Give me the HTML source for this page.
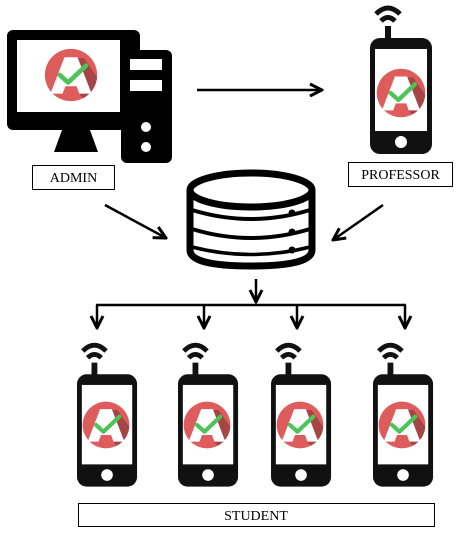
<!DOCTYPE html>
<html><head><style>
html,body{margin:0;padding:0;background:#fff;width:464px;height:540px;overflow:hidden}
svg{display:block}
text{font-family:"Liberation Serif",serif;font-size:14px}
</style></head><body>
<svg width="464" height="540" viewBox="0 0 464 540" xmlns="http://www.w3.org/2000/svg">
<defs>
<symbol id="logo" viewBox="-30 -30 60 60">
 <clipPath id="cc"><circle r="28"/></clipPath>
 <circle r="28" fill="#de5c5c"/>
 <polygon clip-path="url(#cc)" points="-2,-18 14,-18 40,20 30,40 10,22" fill="#a64545"/>
 <polygon points="-7,-19 7,-19 22,20 9,20 6,12 -6,12 -9,20 -22,20" fill="#fff"/>
 <polyline points="-12,0 -3,8 16,-10" fill="none" stroke="#4cc45a" stroke-width="5" stroke-linecap="round" stroke-linejoin="round"/>
</symbol>
<symbol id="phone" viewBox="0 0 64 150">
 <path d="M6 10 Q 18 -2 30 10" fill="none" stroke="#111" stroke-width="5"/>
 <path d="M11 17 Q 18 10 25 17" fill="none" stroke="#111" stroke-width="5"/>
 <rect x="15" y="22" width="6" height="14" fill="#111"/>
 <rect x="0" y="34" width="62" height="116" rx="10" fill="#111"/>
 <rect x="5" y="45" width="52" height="82" fill="#fff"/>
 <circle cx="31" cy="138" r="6" fill="#fff"/>
</symbol>
<marker id="ah" viewBox="0 0 10 10" refX="9" refY="5" markerWidth="6" markerHeight="6" orient="auto">
 <path d="M1 1 L9 5 L1 9" fill="none" stroke="#000" stroke-width="2"/>
</marker>
</defs>

<rect x="7" y="30" width="133" height="100" rx="6" fill="#000"/>
<rect x="17" y="40" width="103" height="72" fill="#fff"/>
<polygon points="62,130 90,130 98,152 54,152" fill="#000"/>
<rect x="121" y="50" width="51" height="113" rx="6" fill="#000"/>
<rect x="130" y="59" width="32" height="11" fill="#fff"/>
<rect x="130" y="80" width="32" height="11" fill="#fff"/>
<circle cx="146" cy="127" r="5" fill="#fff"/>
<circle cx="146" cy="147" r="5" fill="#fff"/>
<use href="#logo" x="43" y="47" width="56" height="56"/>
<rect x="32.5" y="165.5" width="82" height="24" fill="#fff" stroke="#000"/>
<text x="73.5" y="182" text-anchor="middle">ADMIN</text>

<use href="#phone" x="370" y="4" width="64" height="150"/>
<use href="#logo" x="375" y="67" width="52" height="52"/>
<rect x="348.5" y="162.5" width="104" height="24" fill="#fff" stroke="#000"/>
<text x="400.5" y="179" text-anchor="middle">PROFESSOR</text>

<line x1="197" y1="90" x2="322" y2="90" stroke="#000" stroke-width="2.5" marker-end="url(#ah)"/>
<line x1="105" y1="205" x2="166" y2="238" stroke="#000" stroke-width="2.5" marker-end="url(#ah)"/>
<line x1="383" y1="205" x2="333" y2="240" stroke="#000" stroke-width="2.5" marker-end="url(#ah)"/>

<g fill="#fff" stroke="#000">
 <path d="M190 190 L190 250 Q190 266 251 266 Q312 266 312 250 L312 190" stroke-width="7"/>
 <path d="M192 210 Q251 228 310 210" fill="none" stroke-width="4"/>
 <path d="M192 229 Q251 247 310 229" fill="none" stroke-width="4"/>
 <path d="M192 247 Q251 262 310 247" fill="none" stroke-width="3.5"/>
 <ellipse cx="251" cy="190" rx="61" ry="17" stroke-width="7"/>
</g>
<circle cx="292" cy="213" r="3.5"/>
<circle cx="292" cy="232" r="3.5"/>
<circle cx="292" cy="250" r="3.5"/>

<line x1="256" y1="279" x2="256" y2="302" stroke="#000" stroke-width="2.5" marker-end="url(#ah)"/>
<line x1="96" y1="305" x2="406" y2="305" stroke="#000" stroke-width="2.5"/>
<g stroke="#000" stroke-width="2.5">
 <line x1="97" y1="305" x2="97" y2="328" marker-end="url(#ah)"/>
 <line x1="204" y1="305" x2="204" y2="328" marker-end="url(#ah)"/>
 <line x1="297" y1="305" x2="297" y2="328" marker-end="url(#ah)"/>
 <line x1="405" y1="305" x2="405" y2="328" marker-end="url(#ah)"/>
</g>

<use href="#phone" x="77" y="339" width="62" height="150"/>
<use href="#logo" x="81" y="400" width="50" height="50"/>
<use href="#phone" x="178" y="339" width="62" height="150"/>
<use href="#logo" x="182" y="400" width="50" height="50"/>
<use href="#phone" x="271" y="339" width="62" height="150"/>
<use href="#logo" x="275" y="400" width="50" height="50"/>
<use href="#phone" x="373" y="339" width="62" height="150"/>
<use href="#logo" x="377" y="400" width="50" height="50"/>

<rect x="78.5" y="503.5" width="356" height="23" fill="#fff" stroke="#000"/>
<text x="256" y="520" text-anchor="middle">STUDENT</text>
</svg>
</body></html>
